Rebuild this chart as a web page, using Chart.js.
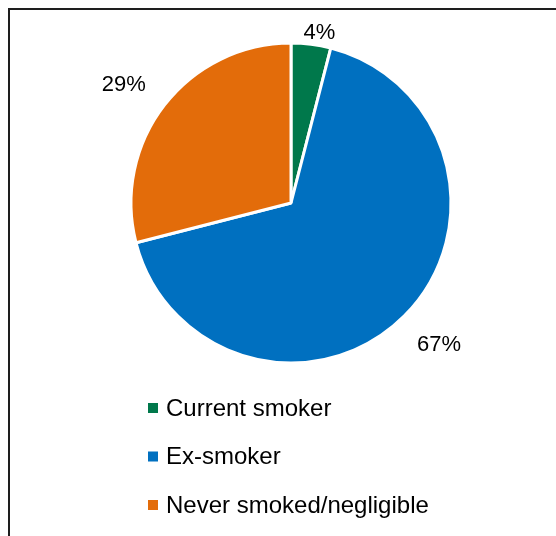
<!DOCTYPE html>
<html>
<head>
<meta charset="utf-8">
<script src="https://cdn.jsdelivr.net/npm/chart.js@4/dist/chart.umd.min.js"></script>
<style>
  html, body { margin: 0; padding: 0; background: #ffffff; }
  #wrap { width: 556px; height: 536px; position: relative; }
</style>
</head>
<body>
<div id="wrap"><canvas id="c" width="556" height="536"></canvas></div>
<script>
const categories = ["Current smoker", "Ex-smoker", "Never smoked/negligible"];
const shares = [4, 67, 29];
const sliceColors = ["#00784B", "#0070C0", "#E36C0A"];

const FONT = "'Liberation Sans', Arial, sans-serif";

const framePlugin = {
  id: 'frame',
  beforeDraw(chart) {
    const ctx = chart.ctx;
    ctx.save();
    ctx.fillStyle = '#ffffff';
    ctx.fillRect(0, 0, chart.width, chart.height);
    ctx.strokeStyle = '#1e1e1e';
    ctx.lineWidth = 2;
    ctx.strokeRect(9, 9, chart.width + 20, chart.height + 20);
    ctx.restore();
  }
};

const labelPlugin = {
  id: 'outLabels',
  afterDatasetsDraw(chart) {
    const ctx = chart.ctx;
    const meta = chart.getDatasetMeta(0);
    ctx.save();
    ctx.font = "22px " + FONT;
    ctx.fillStyle = '#000000';
    ctx.textAlign = 'center';
    ctx.textBaseline = 'middle';
    meta.data.forEach((arc, i) => {
      const p = arc.getProps(['x', 'y', 'startAngle', 'endAngle', 'outerRadius'], true);
      const mid = (p.startAngle + p.endAngle) / 2;
      const c = Math.cos(mid), s = Math.sin(mid);
      const d = p.outerRadius + 14 + 38 * Math.abs(c);
      const x = p.x + c * d + 6 * Math.sign(c);
      const y = p.y + s * d + (s < 0 ? 7 : 0);
      ctx.fillText(shares[i] + '%', x, y);
    });
    ctx.restore();
  }
};

const legendPlugin = {
  id: 'vLegend',
  afterDraw(chart) {
    const ctx = chart.ctx;
    const area = chart.chartArea;
    ctx.save();
    ctx.font = "24px " + FONT;
    ctx.textBaseline = 'middle';
    ctx.textAlign = 'left';
    const x0 = 148;
    const y0 = area.bottom + 45;
    const step = 48.5;
    categories.forEach((lab, i) => {
      const y = y0 + i * step;
      ctx.fillStyle = sliceColors[i];
      ctx.fillRect(x0, y - 5, 10, 10);
      ctx.fillStyle = '#000000';
      ctx.fillText(lab, x0 + 18, y + 1);
    });
    ctx.restore();
  }
};

new Chart(document.getElementById('c'), {
  type: 'pie',
  data: {
    labels: categories,
    datasets: [{
      data: shares,
      backgroundColor: sliceColors,
      borderColor: '#ffffff',
      borderWidth: 3
    }]
  },
  options: {
    responsive: false,
    animation: false,
    radius: 160,
    layout: { padding: { left: 131, right: 105, top: 43, bottom: 173 } },
    plugins: {
      legend: { display: false },
      tooltip: { enabled: false }
    }
  },
  plugins: [framePlugin, labelPlugin, legendPlugin]
});
</script>
</body>
</html>
